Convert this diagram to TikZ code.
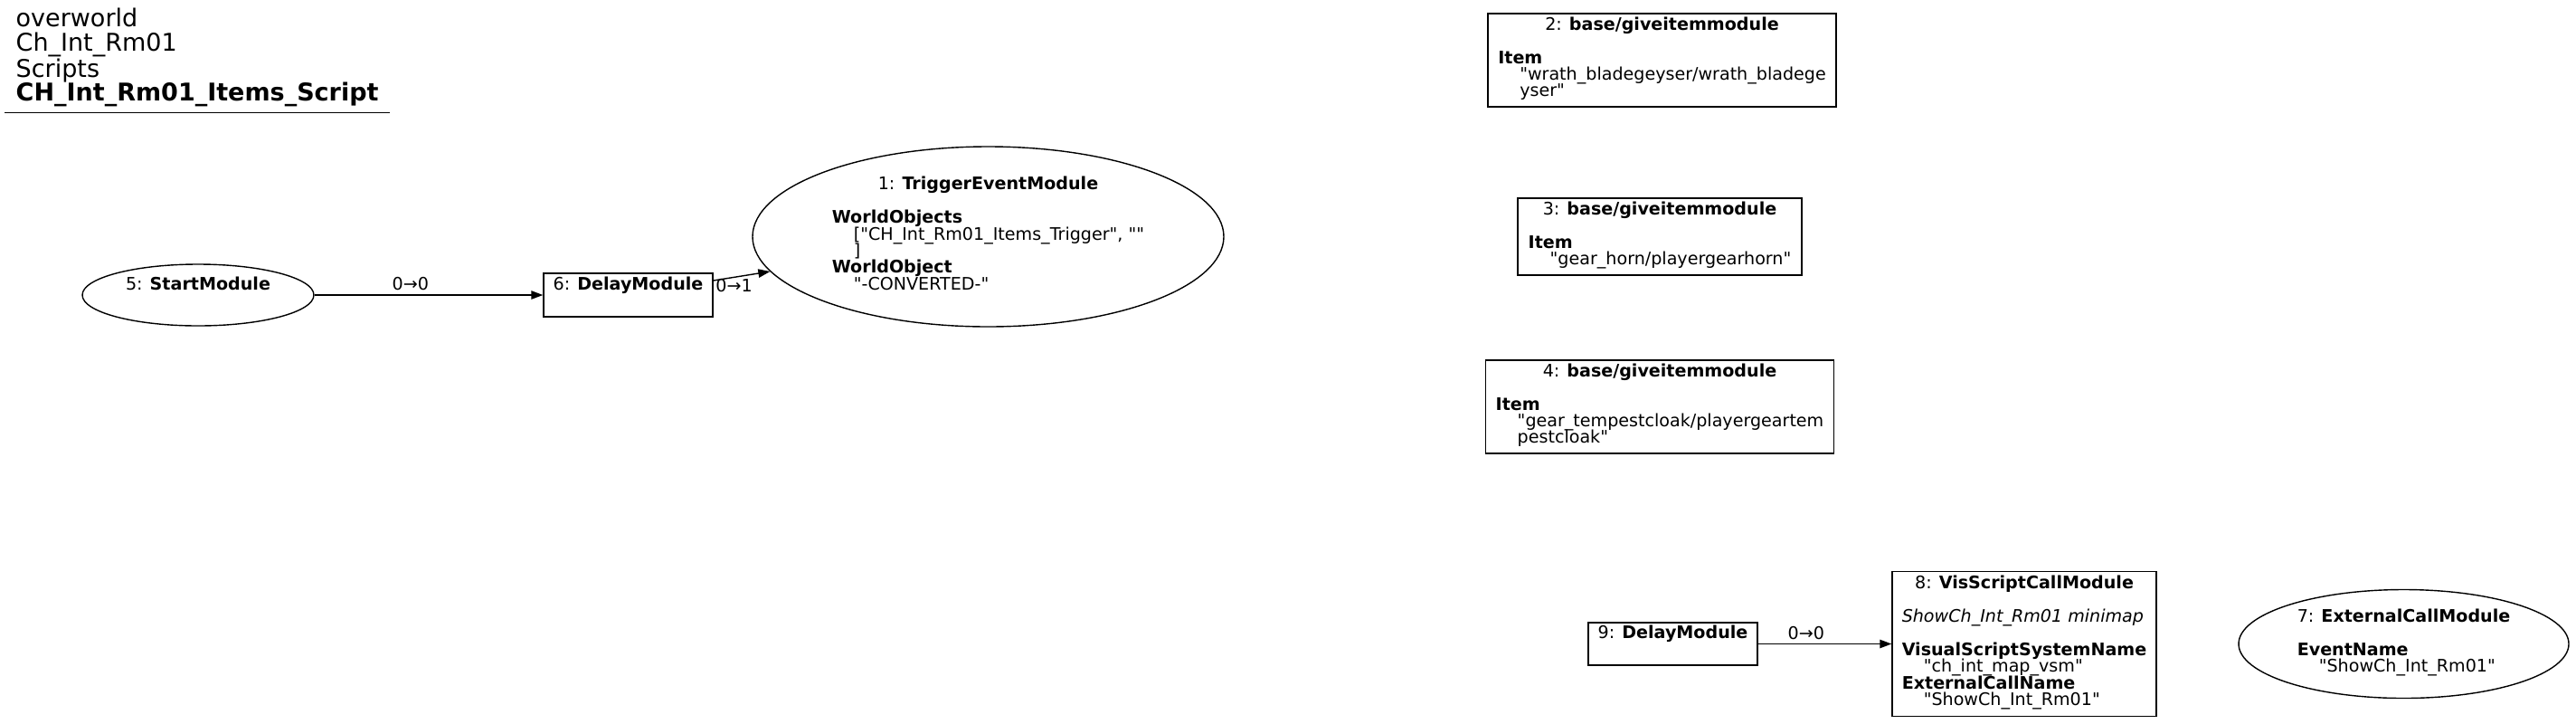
\documentclass[tikz,border=0pt]{standalone}
\usepackage{fontspec}
\usepackage{array}
\newfontfamily\dvs{DejaVu Sans}
\usetikzlibrary{shapes,arrows.meta,positioning}
\newcommand{\ind}{\hspace*{12pt}}
% rows keep a fixed pitch: cell contents are smashed
\newcolumntype{L}{@{}>{\setbox0\hbox\bgroup}l<{\egroup\ht0=0pt\dp0=0pt\box0}@{}}
\newcommand{\ttl}[2]{\multicolumn{1}{@{}c@{}}{\smash{#1: \textbf{#2}}}}

\begin{document}
\begin{tikzpicture}[%
    >={Triangle[length=6.5pt,width=4.7pt]}, % Filled heads, as graphviz draws them
    line width=0.7pt,                       % Thin pen for boxes and links
    ]
% -------------------------------------------------
% A few box styles
% <on grid> makes the distances below centre to centre

\tikzset{
  base/.style={draw, on grid, inner sep=0pt,
    font=\dvs\fontsize{9.55pt}{9.2pt}\selectfont},
  box/.style={base, rectangle},
  oval/.style={base, ellipse},
  % Connector and label styles
  edge/.style={->, draw},
  lbl/.style={font=\dvs\fontsize{9.55pt}{9.2pt}\selectfont, inner sep=1pt},
  head/.style={anchor=north west, inner xsep=6pt, inner ysep=3pt, align=left,
    font=\dvs\fontsize{13.5pt}{13.3pt}\selectfont}
}
\useasboundingbox (0,0) rectangle (1424pt,-399.5pt);
% -------------------------------------------------
% Start by placing the nodes
\node [head] (title) at (2.5pt,-1.2pt)
  {overworld\\Ch\_Int\_Rm01\\Scripts\\\textbf{CH\_Int\_Rm01\_Items\_Script}};
\draw (title.south west) -- (title.south east);

\node [oval, minimum width=128pt, minimum height=34pt] (n5) at (109.5pt,-163pt)
  {\begin{tabular}{L}5: \textbf{StartModule}\\ \\\end{tabular}};
\node [box, minimum width=93.5pt, minimum height=24pt, right=237.75pt of n5] (n6)
  {\begin{tabular}{L}6: \textbf{DelayModule}\\ \\\end{tabular}};
\node [oval, minimum width=260.5pt, minimum height=99.5pt,
  above right=32.25pt and 199pt of n6] (n1)
  {\begin{tabular}{L}
   \ttl{1}{TriggerEventModule}\\ \\
   \textbf{WorldObjects}\\
   \ind["CH\_Int\_Rm01\_Items\_Trigger", ""\\
   \ind]\\
   \textbf{WorldObject}\\
   \ind"-CONVERTED-"
   \end{tabular}};
\node [box, minimum width=157pt, minimum height=42.5pt, right=371.25pt of n1] (n3)
  {\begin{tabular}{L}
   \ttl{3}{base/giveitemmodule}\\ \\
   \textbf{Item}\\
   \ind"gear\_horn/playergearhorn"
   \end{tabular}};
\node [box, minimum width=192.5pt, minimum height=51.5pt, above=97.5pt of n3,
  xshift=1.25pt] (n2)
  {\begin{tabular}{L}
   \ttl{2}{base/giveitemmodule}\\ \\
   \textbf{Item}\\
   \ind"wrath\_bladegeyser/wrath\_bladege\\
   \ind yser"
   \end{tabular}};
\node [box, minimum width=192.5pt, minimum height=51.5pt, below=94pt of n3] (n4)
  {\begin{tabular}{L}
   \ttl{4}{base/giveitemmodule}\\ \\
   \textbf{Item}\\
   \ind"gear\_tempestcloak/playergeartem\\
   \ind pestcloak"
   \end{tabular}};
\node [box, minimum width=93.5pt, minimum height=23.5pt,
  below right=225pt and 7.25pt of n3] (n9)
  {\begin{tabular}{L}9: \textbf{DelayModule}\\ \\\end{tabular}};
\node [box, minimum width=146pt, minimum height=80pt, right=194.25pt of n9] (n8)
  {\begin{tabular}{L}
   \ttl{8}{VisScriptCallModule}\\ \\
   \textit{ShowCh\_Int\_Rm01 minimap}\\ \\
   \textbf{VisualScriptSystemName}\\
   \ind"ch\_int\_map\_vsm"\\
   \textbf{ExternalCallName}\\
   \ind"ShowCh\_Int\_Rm01"
   \end{tabular}};
\node [oval, minimum width=182.5pt, minimum height=60pt, right=209.75pt of n8] (n7)
  {\begin{tabular}{L}
   \ttl{7}{ExternalCallModule}\\ \\
   \textbf{EventName}\\
   \ind"ShowCh\_Int\_Rm01"
   \end{tabular}};

\draw[edge] (n5) -- node[lbl, pos=0.42, above=1.5pt] {0→0} (n6);	%StartModule,DelayModule
\draw[edge] ([yshift=8pt]n6.east) -- node[lbl, pos=0, anchor=west, yshift=-3pt] {0→1} (n1);	%DelayModule,TriggerEventModule
\draw[edge] (n9) -- node[lbl, pos=0.36, above=1pt] {0→0} (n8);	%DelayModule,VisScriptCallModule

% -------------------------------------------------
\end{tikzpicture}
\end{document}
